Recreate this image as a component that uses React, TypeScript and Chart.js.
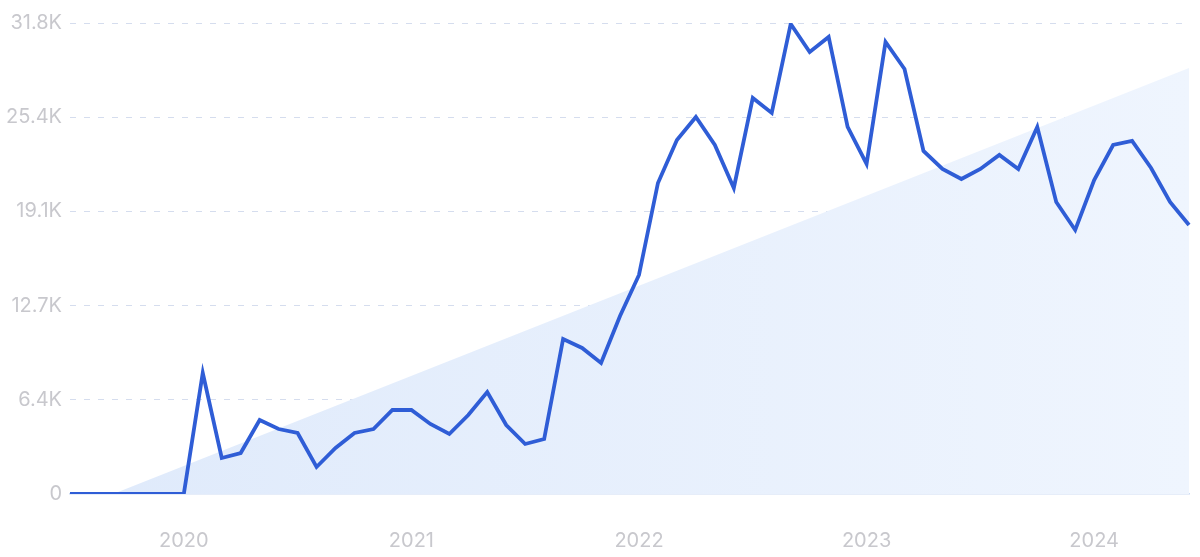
import React, { useEffect, useRef } from "react";
import { Chart, registerables } from "chart.js";

Chart.register(...registerables);

// Monthly categories Jul 2019 .. Jun 2024
const months: string[] = [
  "2019-07","2019-08","2019-09","2019-10","2019-11","2019-12",
  "2020-01","2020-02","2020-03","2020-04","2020-05","2020-06","2020-07","2020-08","2020-09","2020-10","2020-11","2020-12",
  "2021-01","2021-02","2021-03","2021-04","2021-05","2021-06","2021-07","2021-08","2021-09","2021-10","2021-11","2021-12",
  "2022-01","2022-02","2022-03","2022-04","2022-05","2022-06","2022-07","2022-08","2022-09","2022-10","2022-11","2022-12",
  "2023-01","2023-02","2023-03","2023-04","2023-05","2023-06","2023-07","2023-08","2023-09","2023-10","2023-11","2023-12",
  "2024-01","2024-02","2024-03","2024-04","2024-05","2024-06",
];

const searches: number[] = [
  0, 0, 0, 0, 0, 0,
  0, 8170, 2431, 2768, 4996, 4389, 4119, 1823, 3106, 4119, 4389, 5672,
  5672, 4726, 4051, 5334, 6887, 4659, 3376, 3714, 10466, 9858, 8845, 12019,
  14787, 20999, 23902, 25455, 23564, 20661, 26738, 25725, 31734, 29844, 30857, 24780,
  22282, 30519, 28696, 23159, 21944, 21269, 21944, 22889, 21944, 24780, 19716, 17825,
  21201, 23564, 23834, 22012, 19716, 18163,
];

// Trend line endpoints (first and last month)
const trendStart = -1150;
const trendEnd = 28760;

const yTicks: number[] = [0, 6360, 12720, 19080, 25440, 31800];

const fmt = (v: number) => (v === 0 ? "0" : (v / 1000).toFixed(1) + "K");

export default function App() {
  const ref = useRef<HTMLCanvasElement | null>(null);

  useEffect(() => {
    document.body.style.margin = "0";
    const canvas = ref.current;
    if (!canvas) return;
    const chart = new Chart(canvas, {
      type: "line",
      data: {
        labels: months,
        datasets: [
          {
            data: searches,
            borderColor: "#2f5dd6",
            borderWidth: 3.8,
            pointRadius: 0,
            tension: 0,
            fill: false,
          },
          {
            data: [
              { x: months[0], y: trendStart },
              { x: months[months.length - 1], y: trendEnd },
            ] as any,
            borderWidth: 0,
            borderColor: "rgba(0,0,0,0)",
            pointRadius: 0,
            fill: "origin",
            backgroundColor: (ctx: any) => {
              const ca = ctx.chart.chartArea;
              if (!ca) return "rgba(222,234,251,0.9)";
              const g = ctx.chart.ctx.createLinearGradient(ca.left, 0, ca.right, 0);
              g.addColorStop(0, "#dfeafb");
              g.addColorStop(1, "#eff5fe");
              return g;
            },
          },
        ],
      },
      options: {
        animation: false,
        responsive: false,
        maintainAspectRatio: false,
        layout: { padding: { left: 0, right: 11, top: 23, bottom: 0 } },
        plugins: { legend: { display: false }, tooltip: { enabled: false } },
        scales: {
          x: {
            type: "category",
            offset: false,
            grid: { display: false, drawTicks: false },
            border: { display: true, color: "#cddcf4", width: 1.5 },
            ticks: {
              autoSkip: false,
              maxRotation: 0,
              padding: 35,
              color: "#c8c8cd",
              font: { family: "Inter", size: 20 },
              callback: (_v: any, i: number) => {
                const m = months[i];
                return m && m.endsWith("-01") ? m.slice(0, 4) : null;
              },
            },
            afterFit: (s: any) => {
              s.height = 63;
            },
          },
          y: {
            min: 0,
            max: 31800,
            afterBuildTicks: (s: any) => {
              s.ticks = yTicks.map((v) => ({ value: v }));
            },
            grid: {
              drawTicks: false,
              color: (c: any) => (c.index === 0 ? "rgba(0,0,0,0)" : "#d5ddee"),
              lineWidth: 1,
            },
            border: { display: false, dash: [6, 8] },
            ticks: {
              padding: 8,
              color: "#c8c8cd",
              font: { family: "Inter", size: 20 },
              callback: (v: any) => fmt(Number(v)),
            },
            afterFit: (s: any) => {
              s.width = 70;
            },
          },
        },
      },
    });
    return () => chart.destroy();
  }, []);

  return (
    <div style={{ width: 1200, height: 557 }}>
      <canvas ref={ref} width={1200} height={557} style={{ display: "block" }} />
    </div>
  );
}
